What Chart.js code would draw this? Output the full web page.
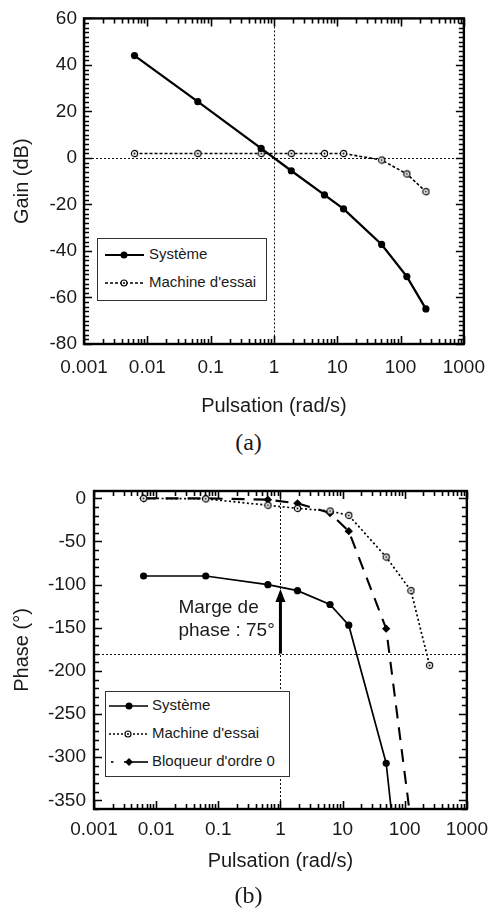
<!DOCTYPE html>
<html>
<head>
<meta charset="utf-8">
<script src="https://cdn.jsdelivr.net/npm/chart.js@4"></script>
<style>
  body { margin: 0; width: 497px; height: 911px; background: #fff; position: relative; overflow: hidden; font-family: 'Liberation Sans', Arial, Helvetica, sans-serif; color: #1a1a1a; }
  canvas { position: absolute; left: 0; }
  .sous { position: absolute; left: 0; width: 497px; text-align: center; font-family: 'Liberation Serif', 'DejaVu Serif', serif; font-size: 24px; line-height: 24px; }
  .leg { position: absolute; background: #fff; border: 1px solid #333; box-sizing: border-box; }
  .leg svg { position: absolute; left: 0; top: 0; }
  .leg span { position: absolute; font-size: 15px; line-height: 18px; white-space: nowrap; }
</style>
</head>
<body>
<canvas id="gain" width="497" height="420" style="top:0"></canvas>
<div class="sous" style="top:430px">(a)</div>
<canvas id="phase" width="497" height="451" style="top:460px"></canvas>
<div class="sous" style="top:883px">(b)</div>

<div class="leg" style="left:97px;top:238px;width:170px;height:63px">
  <svg width="170" height="63">
    <line x1="7" y1="16" x2="46" y2="16" stroke="#000" stroke-width="2"/>
    <circle cx="26" cy="16" r="3.5" fill="#000"/>
    <line x1="7" y1="44" x2="46" y2="44" stroke="#000" stroke-width="1.5" stroke-dasharray="3,2"/>
    <circle cx="26" cy="44" r="3" fill="#fff" stroke="#000" stroke-width="1.2"/>
    <circle cx="26" cy="44" r="1" fill="#000"/>
  </svg>
  <span style="left:51px;top:6px">Système</span>
  <span style="left:51px;top:34px">Machine d'essai</span>
</div>

<div class="leg" style="left:105px;top:691px;width:185px;height:86px">
  <svg width="185" height="86">
    <line x1="3" y1="14" x2="42" y2="14" stroke="#000" stroke-width="1.6"/>
    <circle cx="23" cy="14" r="3.5" fill="#000"/>
    <line x1="3" y1="42" x2="42" y2="42" stroke="#000" stroke-width="1.5" stroke-dasharray="2,2"/>
    <circle cx="22" cy="42" r="3" fill="#fff" stroke="#000" stroke-width="1.2"/>
    <circle cx="22" cy="42" r="1" fill="#000"/>
    <line x1="5" y1="70" x2="7.5" y2="70" stroke="#000" stroke-width="1.6"/>
    <line x1="18" y1="70" x2="42" y2="70" stroke="#000" stroke-width="1.6"/>
    <polygon points="23,66 27,70 23,74 19,70" fill="#000"/>
  </svg>
  <span style="left:46px;top:4px">Système</span>
  <span style="left:46px;top:32px">Machine d'essai</span>
  <span style="left:46px;top:60px">Bloqueur d'ordre 0</span>
</div>

<script>
// pulsations (rad/s) des points de mesure
const pulsations = [0.00628, 0.0628, 0.628, 1.88, 6.28, 12.57, 50.3, 125.7, 251.3];
const decades = [0.001, 0.01, 0.1, 1, 10, 100, 1000];

// (a) gain en dB
const gainSysteme = [44, 24.2, 4.1, -5.5, -15.9, -21.9, -37.2, -51, -64.9];
const gainMachine = [1.9, 1.9, 1.9, 1.9, 1.9, 1.9, -0.9, -6.9, -14.5];
const gainTicks = [-80, -60, -40, -20, 0, 20, 40, 60];

// (b) phase en degres (les derniers points sortent du cadre)
const phaseSysteme = [-90, -90, -100, -107, -123, -147, -307, -570];
const phaseMachine = [0, -0.6, -8, -11.6, -14.7, -19.7, -68, -107, -193.5];
const phaseBloqueur = [0, 0, -1.5, -5.8, -17, -38, -151, -375];
const phaseTicks = [-350, -300, -250, -200, -150, -100, -50, 0];

// marge de phase lue a w = 1 rad/s
const margeX = 1;
const margePhase = 75;

Chart.defaults.font.family = "'Liberation Sans', Arial, Helvetica, sans-serif";
Chart.defaults.color = '#1a1a1a';

const points = serie => serie.map((v, i) => ({ x: pulsations[i], y: v }));

// marqueur rond vide avec un point au centre
function rondPointe() {
  const c = document.createElement('canvas');
  c.width = 9; c.height = 9;
  const g = c.getContext('2d');
  g.fillStyle = '#fff'; g.strokeStyle = '#000'; g.lineWidth = 1.2;
  g.beginPath(); g.arc(4.5, 4.5, 3.1, 0, Math.PI * 2); g.fill(); g.stroke();
  g.fillStyle = '#000';
  g.beginPath(); g.arc(4.5, 4.5, 1, 0, Math.PI * 2); g.fill();
  return c;
}
const rond = rondPointe();

// cadre, graduations interieures et droites de reference
const cadre = {
  id: 'cadre',
  beforeDatasetsDraw(chart, args, o) {
    const { ctx, chartArea: a, scales: { x, y } } = chart;
    const py = Math.round(y.getPixelForValue(o.refY)) + 0.5;
    const px = Math.round(x.getPixelForValue(1)) + 0.5;
    ctx.save();
    ctx.strokeStyle = '#111';
    ctx.lineWidth = 1;
    ctx.setLineDash([2, 2]);
    ctx.beginPath();
    ctx.moveTo(a.left, py); ctx.lineTo(a.right, py);
    ctx.moveTo(px, a.top); ctx.lineTo(px, a.bottom);
    ctx.stroke();
    ctx.restore();
  },
  afterDatasetsDraw(chart, args, o) {
    const { ctx, chartArea: a, scales: { x, y } } = chart;
    ctx.save();
    ctx.setLineDash([]);
    ctx.strokeStyle = '#000';
    ctx.lineWidth = 1.6;
    ctx.lineCap = 'butt';
    const tx = (v, len) => {
      const p = Math.round(x.getPixelForValue(v)) + 0.5;
      ctx.beginPath();
      ctx.moveTo(p, a.bottom); ctx.lineTo(p, a.bottom - len);
      ctx.moveTo(p, a.top); ctx.lineTo(p, a.top + len);
      ctx.stroke();
    };
    const ty = (v, len) => {
      const p = Math.round(y.getPixelForValue(v)) + 0.5;
      ctx.beginPath();
      ctx.moveTo(a.left, p); ctx.lineTo(a.left + len, p);
      ctx.moveTo(a.right, p); ctx.lineTo(a.right - len, p);
      ctx.stroke();
    };
    decades.forEach((d, i) => {
      tx(d, 8);
      if (i < decades.length - 1) for (let k = 2; k <= 9; k++) tx(d * k, 5);
    });
    for (let v = Math.ceil(y.min / o.minorY) * o.minorY; v <= y.max; v += o.minorY) {
      const r = Math.round(v * 100) / 100;
      ty(r, r % o.majorY === 0 ? 8 : 5);
    }
    ctx.lineWidth = 2.4;
    ctx.strokeRect(a.left, a.top, a.right - a.left, a.bottom - a.top);
    ctx.restore();
  }
};

// fleche et texte de la marge de phase
const marge = {
  id: 'marge',
  afterDatasetsDraw(chart) {
    const { ctx, scales: { x, y } } = chart;
    const px = x.getPixelForValue(margeX);
    const y0 = y.getPixelForValue(-180);
    const y1 = y.getPixelForValue(-180 + margePhase);
    ctx.save();
    ctx.setLineDash([]);
    ctx.strokeStyle = ctx.fillStyle = '#000';
    ctx.lineWidth = 3;
    ctx.beginPath(); ctx.moveTo(px, y0); ctx.lineTo(px, y1 + 10); ctx.stroke();
    ctx.beginPath();
    ctx.moveTo(px, y1); ctx.lineTo(px - 5, y1 + 13); ctx.lineTo(px + 5, y1 + 13);
    ctx.closePath(); ctx.fill();
    ctx.fillStyle = '#1a1a1a';
    ctx.font = "19px 'Liberation Sans', Arial, sans-serif";
    ctx.textBaseline = 'middle';
    ctx.fillText('Marge de', px - 102, y1 + 19);
    ctx.fillText('phase : 75°', px - 102, y1 + 42);
    ctx.restore();
  }
};

function options(cfg) {
  return {
    responsive: false,
    animation: false,
    layout: { padding: { left: 0, right: 27, top: cfg.top, bottom: 0 } },
    plugins: { legend: { display: false }, tooltip: { enabled: false }, cadre: cfg.cadre },
    scales: {
      x: {
        type: 'logarithmic',
        min: 0.001,
        max: 1000,
        afterBuildTicks: s => { s.ticks = decades.map(v => ({ value: v })); },
        afterFit: s => { s.height = cfg.xHeight; },
        grid: { display: false, drawTicks: false },
        border: { display: false },
        ticks: { font: { size: 19 }, padding: cfg.xPad, maxRotation: 0, autoSkip: false, callback: v => String(v) },
        title: { display: true, text: 'Pulsation (rad/s)', font: { size: 20 }, padding: { top: 0, bottom: cfg.titlePad } }
      },
      y: {
        min: cfg.min,
        max: cfg.max,
        afterBuildTicks: s => { s.ticks = cfg.yTicks.map(v => ({ value: v })); },
        afterFit: s => { s.width = cfg.yWidth; },
        grid: { display: false, drawTicks: false },
        border: { display: false },
        ticks: { font: { size: 19 }, padding: cfg.yPad },
        title: { display: true, text: cfg.yTitle, font: { size: 20 }, padding: { top: 10, bottom: 0 } }
      }
    }
  };
}

new Chart(document.getElementById('gain'), {
  type: 'line',
  data: {
    datasets: [
      { label: 'Système', data: points(gainSysteme), borderColor: '#000', backgroundColor: '#000', borderWidth: 2.3, pointRadius: 3.6, pointBorderWidth: 0 },
      { label: "Machine d'essai", data: points(gainMachine), borderColor: '#000', borderWidth: 1.6, borderDash: [3, 2], pointStyle: rond }
    ]
  },
  options: options({
    top: 17, xHeight: 76, xPad: 12, titlePad: 1.5, yWidth: 84, yPad: 7,
    min: -80, max: 60, yTicks: gainTicks, yTitle: 'Gain (dB)',
    cadre: { refY: 0, minorY: 2, majorY: 20 }
  }),
  plugins: [cadre]
});

new Chart(document.getElementById('phase'), {
  type: 'line',
  data: {
    datasets: [
      { label: 'Système', data: points(phaseSysteme), borderColor: '#000', backgroundColor: '#000', borderWidth: 1.7, pointRadius: 3.6, pointBorderWidth: 0 },
      { label: "Machine d'essai", data: points(phaseMachine), borderColor: '#000', borderWidth: 1.7, borderDash: [2, 2.5], pointStyle: rond },
      { label: "Bloqueur d'ordre 0", data: points(phaseBloqueur), borderColor: '#000', backgroundColor: '#000', borderWidth: 2.1, borderDash: [13, 9], pointStyle: 'rectRot', pointRadius: 4.2, pointBorderWidth: 0 }
    ]
  },
  options: options({
    top: 31, xHeight: 102, xPad: 9, titlePad: 37.5, yWidth: 94, yPad: 8,
    min: -360, max: 8.5, yTicks: phaseTicks, yTitle: 'Phase (°)',
    cadre: { refY: -180, minorY: 10, majorY: 50 }
  }),
  plugins: [cadre, marge]
});
</script>
</body>
</html>
